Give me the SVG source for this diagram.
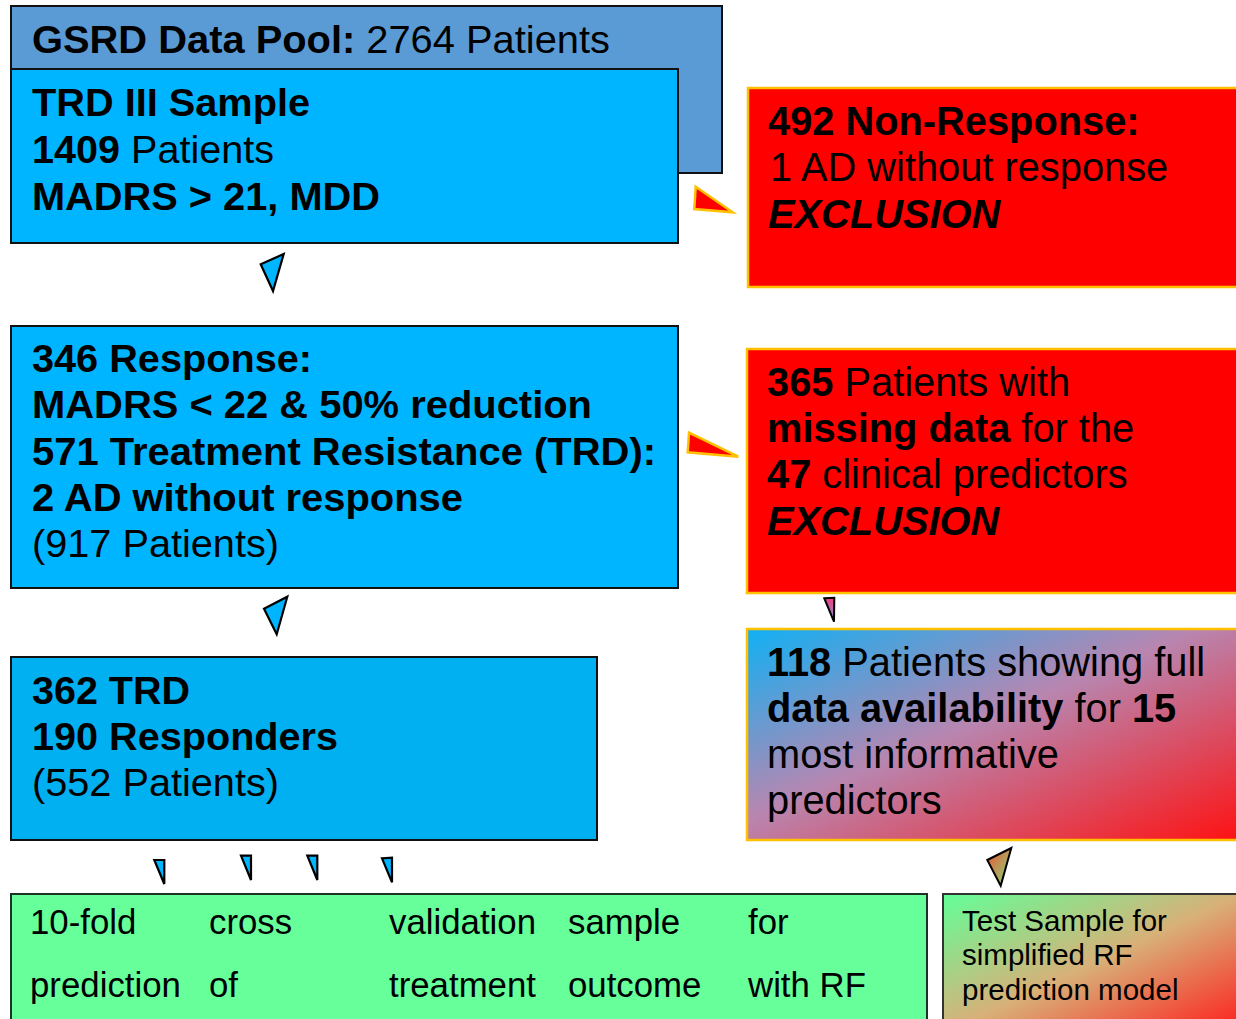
<svg xmlns="http://www.w3.org/2000/svg" width="1236" height="1019" viewBox="0 0 1236 1019">
<defs>
<linearGradient id="gBR" x1="0" y1="0" x2="1" y2="1">
<stop offset="0" stop-color="#10b0f4"/>
<stop offset="0.45" stop-color="#b886b0"/>
<stop offset="1" stop-color="#ff1010"/>
</linearGradient>
<linearGradient id="gGR" x1="0" y1="0" x2="1" y2="1">
<stop offset="0" stop-color="#62ff98"/>
<stop offset="0.5" stop-color="#d8b078"/>
<stop offset="1" stop-color="#ff1a1a"/>
</linearGradient>
<linearGradient id="gTri1" x1="0" y1="0" x2="0" y2="1">
<stop offset="0" stop-color="#f0407a"/>
<stop offset="1" stop-color="#8090e0"/>
</linearGradient>
<linearGradient id="gTri2" x1="0" y1="0" x2="1" y2="1">
<stop offset="0" stop-color="#f05030"/>
<stop offset="1" stop-color="#80e080"/>
</linearGradient>
<style>
text{font-family:"Liberation Sans",Arial,sans-serif;fill:#000}
.b{font-weight:bold}
.bi{font-weight:bold;font-style:italic}
.l{font-size:38px}
.r{font-size:39.8px}
.g{font-size:34.8px}
.t{font-size:29.5px}
.blue{stroke:#111;stroke-width:2}
.red{fill:#ff0000;stroke:#ffc000;stroke-width:2.5}
.tb{fill:#00b5ff;stroke:#000;stroke-width:2.2}
.tr{fill:#ff0000;stroke:#ffc000;stroke-width:2.5}
</style>
</defs>
<g id="pool">
<rect x="11" y="6" width="711" height="167" fill="#5b9bd5" class="blue"/>
<text class="l" x="32" y="53" textLength="578" lengthAdjust="spacingAndGlyphs"><tspan class="b">GSRD Data Pool:</tspan> 2764 Patients</text>
</g>
<g id="trd3">
<rect x="11" y="69" width="667" height="174" fill="#00b5ff" class="blue"/>
<text class="l b" x="32" y="116" textLength="278" lengthAdjust="spacingAndGlyphs">TRD III Sample</text>
<text class="l" x="32" y="163" textLength="242" lengthAdjust="spacingAndGlyphs"><tspan class="b">1409</tspan> Patients</text>
<text class="l b" x="32" y="210" textLength="348" lengthAdjust="spacingAndGlyphs">MADRS &gt; 21, MDD</text>
</g>
<g id="nonresp">
<rect x="748" y="88" width="500" height="199" class="red"/>
<text class="r b" x="768" y="135">492 Non-Response:</text>
<text class="r" x="770" y="181">1 AD without response</text>
<text class="r bi" x="768" y="228">EXCLUSION</text>
</g>
<g id="response">
<rect x="11" y="326" width="667" height="262" fill="#00b5ff" class="blue"/>
<text class="l b" x="32" y="372" textLength="280" lengthAdjust="spacingAndGlyphs">346 Response:</text>
<text class="l b" x="32" y="418" textLength="560" lengthAdjust="spacingAndGlyphs">MADRS &lt; 22 &amp; 50% reduction</text>
<text class="l b" x="32" y="465" textLength="624" lengthAdjust="spacingAndGlyphs">571 Treatment Resistance (TRD):</text>
<text class="l b" x="32" y="511" textLength="431" lengthAdjust="spacingAndGlyphs">2 AD without response</text>
<text class="l" x="32" y="557" textLength="247" lengthAdjust="spacingAndGlyphs">(917 Patients)</text>
</g>
<g id="missing">
<rect x="747" y="349" width="500" height="244" class="red"/>
<text class="r" x="767" y="396"><tspan class="b">365</tspan> Patients with</text>
<text class="r" x="767" y="442"><tspan class="b">missing data</tspan> for the</text>
<text class="r" x="767" y="488"><tspan class="b">47</tspan> clinical predictors</text>
<text class="r bi" x="767" y="535">EXCLUSION</text>
</g>
<g id="trd362">
<rect x="11" y="657" width="586" height="183" fill="#00b0f0" class="blue"/>
<text class="l b" x="32" y="704" textLength="158" lengthAdjust="spacingAndGlyphs">362 TRD</text>
<text class="l b" x="32" y="750" textLength="306" lengthAdjust="spacingAndGlyphs">190 Responders</text>
<text class="l" x="32" y="796" textLength="247" lengthAdjust="spacingAndGlyphs">(552 Patients)</text>
</g>
<g id="full118">
<rect x="747" y="629" width="500" height="211" fill="url(#gBR)" stroke="#ffc000" stroke-width="2.5"/>
<text class="r" x="767" y="676"><tspan class="b">118</tspan> Patients showing full</text>
<text class="r" x="767" y="722"><tspan class="b">data availability</tspan> for <tspan class="b">15</tspan></text>
<text class="r" x="767" y="768">most informative</text>
<text class="r" x="767" y="814">predictors</text>
</g>
<g id="cv">
<rect x="11" y="894" width="916" height="140" fill="#66ff99" stroke="#1a3326" stroke-width="2"/>
<text class="g" x="30" y="934">10-fold</text>
<text class="g" x="209" y="934">cross</text>
<text class="g" x="389" y="934">validation</text>
<text class="g" x="568" y="934">sample</text>
<text class="g" x="748" y="934">for</text>
<text class="g" x="30" y="997">prediction</text>
<text class="g" x="209" y="997">of</text>
<text class="g" x="389" y="997">treatment</text>
<text class="g" x="568" y="997">outcome</text>
<text class="g" x="748" y="997">with RF</text>
</g>
<g id="test">
<rect x="943" y="894" width="300" height="140" fill="url(#gGR)" stroke="#333" stroke-width="2"/>
<text class="t" x="962" y="931">Test Sample for</text>
<text class="t" x="962" y="965">simplified RF</text>
<text class="t" x="962" y="1000">prediction model</text>
</g>
<g id="connectors" stroke-linejoin="miter">
<polygon class="tr" points="695.7,186.7 732.7,212.3 694.3,209"/>
<polygon class="tb" points="260.7,264.3 283.7,254 273,291"/>
<polygon class="tr" points="689,432.7 738.3,456.7 687.7,452.3"/>
<polygon class="tb" points="264,608.7 287.3,596.7 276.7,634.3"/>
<polygon points="824.3,598.3 834.3,597.7 834,621.7" fill="url(#gTri1)" stroke="#000" stroke-width="2"/>
<polygon class="tb" points="154.3,860 164.3,860 164.3,884"/>
<polygon class="tb" points="241,855.7 251,855.7 251,880"/>
<polygon class="tb" points="307.3,855.7 317.3,855.7 317.3,880"/>
<polygon class="tb" points="382,858.3 392,857.7 392,882.3"/>
<polygon points="987.3,860 1011.3,848 1000.7,885.7" fill="url(#gTri2)" stroke="#000" stroke-width="2"/>
</g>
</svg>
